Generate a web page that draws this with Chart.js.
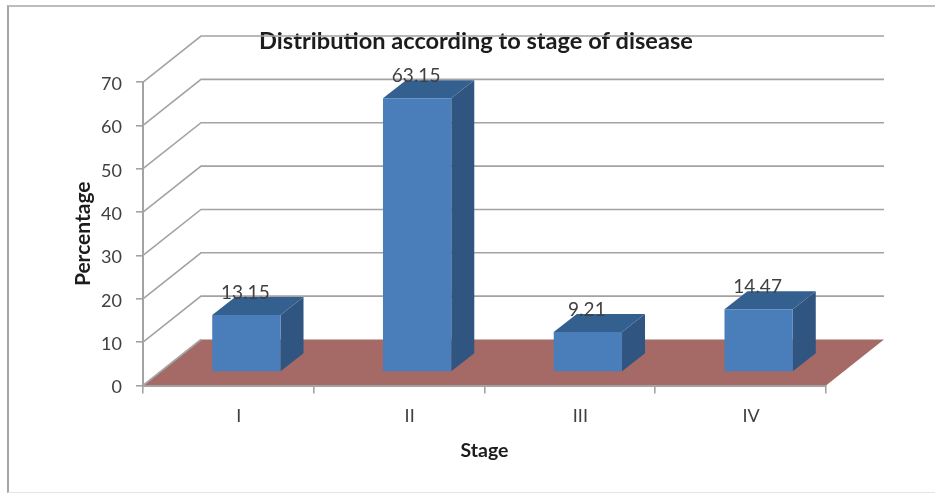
<!DOCTYPE html>
<html>
<head>
<meta charset="utf-8">
<title>Distribution according to stage of disease</title>
<script src="https://cdn.jsdelivr.net/npm/chart.js@4"></script>
<style>
  html, body { margin: 0; background: #fff; overflow: hidden; }
  #frame { position: absolute; left: 7px; top: 5px; right: 0; height: 485px; box-sizing: content-box;
           border-left: 2px solid #a6a6a6; border-top: 2px solid #bdbdbd; border-bottom: 1px solid #e4e4e4; }
  canvas { position: absolute; left: 0; top: 0; filter: blur(0.5px); }
</style>
</head>
<body>
<div id="frame"></div>
<canvas id="myChart" width="935" height="493"></canvas>
<script>
const stages = ["I", "II", "III", "IV"];
const percentages = [13.15, 63.15, 9.21, 14.47];
const percentTicks = [0, 10, 20, 30, 40, 50, 60, 70];

const chartTitle = "Distribution according to stage of disease";
const xTitle = "Stage";
const yTitle = "Percentage";

const FONT = "Lato, 'Open Sans', sans-serif";
const GRID_COLOR = "#a3a3a3";
const TEXT_COLOR = "#404040";

// depth of the box the chart sits in, and of the bars inside it
const wallDepth = { x: 58, y: -46 };
const barShift = { x: 18, y: -13.5 };
const barDepth = { x: 23, y: -18 };

function fillFace(ctx, color, points) {
  ctx.fillStyle = color;
  ctx.beginPath();
  points.forEach((p, i) => (i ? ctx.lineTo(p[0], p[1]) : ctx.moveTo(p[0], p[1])));
  ctx.closePath();
  ctx.fill();
}

const box3d = {
  id: "box3d",
  afterLayout(chart) {
    // title sits right of the canvas centre
    chart.titleBlock.left += 27.5;
    chart.titleBlock.right += 27.5;
  },
  beforeDatasetsDraw(chart) {
    const { ctx, chartArea: area, scales } = chart;
    const y = scales.y;
    const base = y.getPixelForValue(0);

    // floor
    fillFace(ctx, "#a56a66", [
      [area.left, base],
      [area.right, base],
      [area.right + wallDepth.x, base + wallDepth.y],
      [area.left + wallDepth.x, base + wallDepth.y],
    ]);

    // gridlines: up the side wall, then along the back wall
    ctx.strokeStyle = GRID_COLOR;
    ctx.lineWidth = 1.6;
    percentTicks.forEach((tick) => {
      const py = y.getPixelForValue(tick);
      ctx.beginPath();
      ctx.moveTo(area.left, py);
      ctx.lineTo(area.left + wallDepth.x, py + wallDepth.y);
      if (tick > 0) ctx.lineTo(area.right + wallDepth.x, py + wallDepth.y);
      ctx.stroke();
    });
  },
  beforeDatasetDraw(chart) {
    const ctx = chart.ctx;
    chart.getDatasetMeta(0).data.forEach((bar) => {
      const left = bar.x - bar.width / 2 + barShift.x;
      const right = bar.x + bar.width / 2 + barShift.x;
      const top = bar.y + barShift.y;
      const bottom = bar.base + barShift.y;
      fillFace(ctx, "#2f5580", [
        [right, top],
        [right + barDepth.x, top + barDepth.y],
        [right + barDepth.x, bottom + barDepth.y],
        [right, bottom],
      ]);
      fillFace(ctx, "#33608f", [
        [left, top],
        [left + barDepth.x, top + barDepth.y],
        [right + barDepth.x, top + barDepth.y],
        [right, top],
      ]);
    });
    ctx.save();
    ctx.translate(barShift.x, barShift.y);
  },
  afterDatasetDraw(chart) {
    chart.ctx.restore();
  },
  afterDatasetsDraw(chart) {
    const ctx = chart.ctx;
    ctx.save();
    ctx.font = "19px " + FONT;
    ctx.fillStyle = TEXT_COLOR;
    ctx.textAlign = "center";
    ctx.textBaseline = "middle";
    chart.getDatasetMeta(0).data.forEach((bar, i) => {
      ctx.fillText(percentages[i].toFixed(2), bar.x + barShift.x - 1, bar.y + barShift.y - 22);
    });
    ctx.restore();
  },
};

new Chart(document.getElementById("myChart"), {
  type: "bar",
  data: {
    labels: stages,
    datasets: [
      {
        data: percentages,
        backgroundColor: "#4a7ebb",
        borderWidth: 0,
        barPercentage: 0.4,
        categoryPercentage: 1,
      },
    ],
  },
  plugins: [box3d],
  options: {
    responsive: false,
    animation: false,
    layout: { padding: { left: 71, right: 109, top: 0, bottom: 31 } },
    plugins: {
      legend: { display: false },
      tooltip: { enabled: false },
      title: {
        display: true,
        text: chartTitle,
        color: "#1c1c1c",
        font: { family: FONT, size: 23.6, weight: "bold", lineHeight: 1.2 },
        padding: { top: 27, bottom: 26.7 },
      },
    },
    scales: {
      x: {
        afterFit: (scale) => { scale.height = 76.5; },
        grid: {
          offset: true,
          drawOnChartArea: false,
          color: GRID_COLOR,
          lineWidth: 1.6,
          tickLength: 8,
          z: 1,
        },
        border: { color: GRID_COLOR, width: 2, z: 1 },
        ticks: {
          color: TEXT_COLOR,
          font: { family: FONT, size: 18 },
          labelOffset: 10.5,
          padding: 12,
          maxRotation: 0,
        },
        title: {
          display: true,
          text: xTitle,
          color: "#1c1c1c",
          font: { family: FONT, size: 19.5, weight: "bold", lineHeight: 1.2 },
          padding: 0,
        },
      },
      y: {
        min: 0,
        max: 70,
        afterFit: (scale) => { scale.width = 72; },
        afterBuildTicks: (scale) => { scale.ticks = percentTicks.map((value) => ({ value })); },
        grid: {
          drawOnChartArea: false,
          color: GRID_COLOR,
          lineWidth: 1.6,
          tickLength: 7,
          z: 1,
        },
        border: { color: GRID_COLOR, width: 2, z: 1 },
        ticks: {
          color: TEXT_COLOR,
          font: { family: FONT, size: 18 },
          padding: 14,
          labelOffset: 2,
        },
        title: {
          display: true,
          text: yTitle,
          color: "#1c1c1c",
          font: { family: FONT, size: 21, weight: "bold", lineHeight: 1.2 },
          padding: 0,
        },
      },
    },
  },
});
</script>
</body>
</html>
